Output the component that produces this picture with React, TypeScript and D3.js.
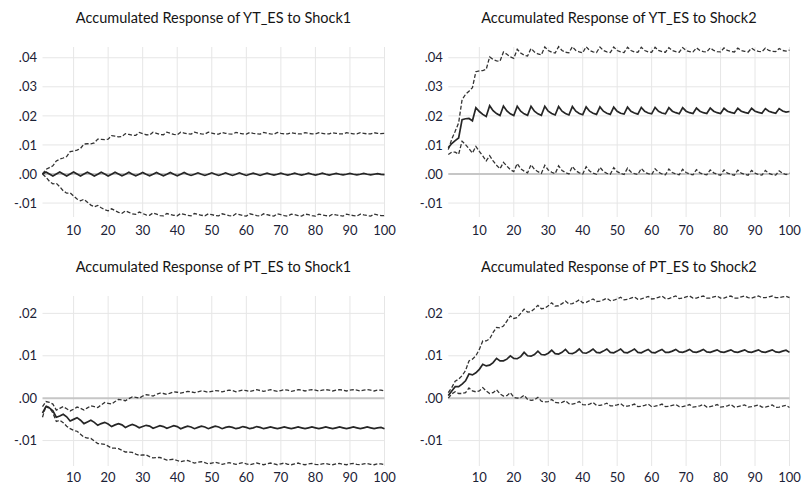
import React from "react";
import * as d3 from "d3";

// values in units of 1e-4
const UNIT = 1e-4;
const periods = d3.range(1, 101);
const xTicks = [10, 20, 30, 40, 50, 60, 70, 80, 90, 100];
const ytTicks = [-0.01, 0, 0.01, 0.02, 0.03, 0.04];
const ptTicks = [-0.01, 0, 0.01, 0.02];

const titles = [
  "Accumulated Response of YT_ES to Shock1",
  "Accumulated Response of YT_ES to Shock2",
  "Accumulated Response of PT_ES to Shock1",
  "Accumulated Response of PT_ES to Shock2",
];

const ytS1Mid = [
  0,7,0,-7, 0,7,0,-7, 0,7,0,-7, 0,6,0,-7, -1,6,0,-7,
  -1,6,0,-6, -1,6,-1,-6, -1,5,-1,-6, -1,5,-1,-6, -1,5,-1,-6,
  -1,5,-1,-5, -1,4,-1,-5, -1,4,-1,-5, -1,4,-1,-5, -1,4,-1,-5,
  -1,3,-1,-5, -1,3,-1,-4, -1,3,-1,-4, -1,3,-1,-4, -1,3,-1,-4,
  -1,3,-1,-4, -1,2,-1,-3, -1,2,-1,-3, -1,2,-1,-3, -1,1,-1,-2,
];
const ytS1Hi = [
  0,16,22,28, 45,51,55,60, 77,79,82,88, 103,104,104,107, 120,119,118,120,
  132,130,128,129, 139,136,133,133, 143,139,135,134, 144,140,136,135, 144,140,136,135,
  144,141,138,137, 144,141,138,137, 144,141,138,137, 143,140,138,137, 143,140,138,137,
  143,140,138,137, 143,140,138,137, 143,140,138,138, 142,140,138,138, 142,140,138,138,
  142,140,138,138, 142,140,138,138, 142,140,138,138, 142,140,138,138, 142,140,139,140,
];
const ytS1Lo = [
  0,-11,-25,-34, -32,-44,-58,-66, -65,-76,-86,-92, -87,-97,-107,-113, -108,-116,-123,-127,
  -120,-126,-132,-135, -127,-132,-137,-139, -131,-136,-141,-142, -134,-138,-143,-144, -136,-139,-142,-144,
  -136,-139,-142,-144, -136,-139,-142,-144, -137,-140,-143,-144, -137,-140,-143,-145, -137,-140,-143,-145,
  -137,-140,-143,-145, -137,-140,-143,-145, -137,-140,-143,-145, -138,-140,-143,-145, -138,-140,-143,-145,
  -138,-141,-143,-145, -138,-141,-143,-145, -138,-141,-143,-145, -138,-141,-143,-145, -138,-141,-143,-143,
];

const ytS2Mid = [
  90,105,115,124, 187,190,191,183, 228,215,205,198, 235,218,208,201, 234,217,207,201,
  233,216,207,202, 233,216,207,202, 233,216,208,203, 232,216,208,203, 232,216,208,204,
  231,216,209,205, 231,216,209,205, 230,216,209,206, 230,216,210,206, 229,216,210,207,
  229,216,210,207, 228,216,211,207, 228,216,211,208, 227,216,211,208, 227,216,211,208,
  226,216,212,209, 226,216,212,209, 226,216,212,209, 225,216,212,209, 225,217,213,215,
];
const ytS2Hi = [
  84,120,147,176, 256,274,285,297, 352,355,356,360, 403,394,389,388, 420,412,403,398,
  429,416,409,406, 432,420,413,410, 437,425,419,416, 438,425,419,417, 438,425,420,417,
  438,425,420,418, 437,425,420,418, 437,425,420,418, 436,425,420,419, 436,425,420,419,
  436,425,421,419, 435,425,421,419, 435,425,421,420, 434,425,421,420, 434,425,421,420,
  434,425,422,420, 433,425,422,420, 433,425,422,421, 433,425,422,421, 432,425,423,426,
];
const ytS2Lo = [
  67,75,75,68, 113,101,87,72, 95,78,62,45, 63,45,30,18, 40,27,15,8,
  36,18,10,4, 32,16,8,2, 30,14,6,1, 28,12,5,0, 26,11,4,0,
  25,10,3,-1, 23,9,2,-1, 22,8,2,-2, 20,7,1,-2, 19,6,1,-2,
  18,6,0,-3, 17,5,0,-3, 16,5,0,-3, 15,4,-1,-3, 14,4,-1,-4,
  14,3,-1,-4, 13,3,-1,-4, 12,3,-2,-4, 12,2,-2,-4, 11,2,-2,3,
];

const ptS1Mid = [
  -35,-20,-23,-30, -45,-42,-38,-44, -54,-50,-46,-52, -60,-56,-52,-57, -64,-60,-57,-61,
  -67,-63,-60,-63, -69,-65,-62,-65, -70,-67,-64,-66, -71,-68,-65,-67, -71,-68,-65,-67,
  -72,-69,-66,-68, -72,-69,-66,-68, -72,-69,-66,-68, -72,-69,-67,-69, -72,-70,-67,-69,
  -72,-70,-67,-69, -72,-70,-68,-70, -72,-70,-68,-70, -72,-70,-68,-70, -72,-70,-68,-70,
  -72,-70,-68,-70, -72,-70,-68,-70, -72,-70,-68,-70, -72,-70,-68,-70, -72,-70,-69,-72,
];
const ptS1Hi = [
  -20,-8,-10,-14, -28,-24,-20,-25, -30,-26,-21,-24, -28,-23,-18,-20, -22,-16,-10,-12,
  -14,-8,-3,-4, -6,-1,3,2, 0,5,8,7, 5,9,12,11, 9,12,15,14,
  12,14,16,15, 13,15,17,16, 14,16,18,17, 15,17,19,18, 15,17,19,18,
  16,18,20,18, 16,18,20,18, 16,18,20,19, 16,18,20,19, 17,19,20,19,
  17,19,20,19, 17,19,20,19, 17,19,20,19, 17,19,20,19, 17,19,19,17,
];
const ptS1Lo = [
  -45,-18,-22,-35, -55,-52,-58,-66, -72,-76,-78,-85, -92,-94,-95,-101, -107,-108,-109,-113,
  -118,-118,-119,-123, -127,-127,-128,-132, -135,-134,-134,-138, -141,-140,-140,-143, -146,-145,-144,-147,
  -150,-148,-147,-150, -153,-151,-150,-152, -155,-153,-151,-153, -156,-154,-152,-154, -156,-154,-152,-155,
  -157,-155,-153,-155, -157,-155,-153,-155, -157,-155,-153,-156, -157,-155,-153,-156, -157,-155,-154,-156,
  -157,-155,-154,-156, -157,-155,-154,-156, -157,-155,-154,-156, -157,-155,-154,-156, -157,-155,-155,-157,
];

const ptS2Mid = [
  6,17,27,27, 33,41,57,55, 60,68,80,76, 78,84,94,88, 88,92,100,94,
  93,98,108,100, 99,103,111,103, 102,106,113,105, 104,108,115,106, 105,109,116,107,
  106,110,116,108, 107,111,116,108, 107,111,116,108, 107,111,116,108, 107,111,115,108,
  107,111,115,108, 108,111,115,109, 108,111,115,109, 108,111,115,109, 108,111,114,109,
  108,111,114,109, 108,111,114,109, 108,111,114,109, 108,111,114,109, 108,111,113,108,
];
const ptS2Hi = [
  13,25,40,45, 53,65,88,92, 100,115,135,135, 140,155,167,166, 170,182,194,188,
  190,200,210,203, 204,211,219,211, 212,218,225,217, 218,223,229,222, 223,227,232,225,
  226,230,234,228, 229,232,236,230, 231,234,238,232, 233,236,239,233, 234,237,240,234,
  235,238,241,235, 235,238,241,235, 236,239,241,236, 236,239,241,236, 236,239,241,236,
  236,239,241,236, 236,239,241,237, 236,239,241,237, 237,239,241,237, 237,239,240,237,
];
const ptS2Lo = [
  0,10,15,11, 11,13,24,17, 15,17,25,17, 11,13,20,10, 5,6,13,2,
  0,1,7,-3, -5,-4,2,-7, -9,-8,-3,-10, -11,-10,-6,-13, -14,-12,-8,-15,
  -16,-14,-10,-17, -17,-15,-12,-18, -18,-16,-13,-19, -19,-17,-14,-20, -19,-17,-14,-20,
  -19,-17,-14,-20, -19,-17,-15,-20, -20,-18,-15,-21, -20,-18,-15,-21, -20,-18,-15,-21,
  -20,-18,-15,-21, -20,-18,-16,-21, -20,-18,-16,-21, -21,-19,-16,-22, -21,-19,-17,-22,
];

const FONT = "Lato, 'Open Sans', sans-serif";
const fmt = (v: number) => {
  const s = Math.abs(v).toFixed(2).replace(/^0/, "");
  return (v < 0 ? "-" : "") + s;
};

type PanelProps = {
  title: string;
  mid: number[];
  hi: number[];
  lo: number[];
  xRange: [number, number];
  yRange: [number, number];
  yDomain: [number, number];
  yTicks: number[];
  titleY: number;
  xLabelY: number;
};

function Panel(p: PanelProps) {
  const x = d3.scaleLinear().domain([1, 100]).range(p.xRange);
  const y = d3.scaleLinear().domain(p.yDomain).range(p.yRange);
  const line = d3
    .line<number>()
    .x((_, i) => x(periods[i]))
    .y((d) => y(d * UNIT));
  const [x0, x1] = p.xRange;
  const [yb, yt] = p.yRange;
  return (
    <g>
      <text
        x={(x0 + x1) / 2}
        y={p.titleY}
        textAnchor="middle"
        fontSize={14.5}
        fill="#151515"
        fontFamily={FONT}
      >
        {p.title}
      </text>
      {xTicks.map((t) => (
        <line key={"vx" + t} x1={x(t)} x2={x(t)} y1={yt} y2={yb} stroke="#e6e6e6" strokeWidth={1} />
      ))}
      {p.yTicks.map((t) => (
        <line
          key={"hy" + t}
          x1={x0}
          x2={x1}
          y1={y(t)}
          y2={y(t)}
          stroke={t === 0 ? "#c6c6c6" : "#e6e6e6"}
          strokeWidth={t === 0 ? 2 : 1}
        />
      ))}
      {p.yTicks.map((t) => (
        <text
          key={"ty" + t}
          x={x0 - 5.5}
          y={y(t)}
          dy="0.36em"
          textAnchor="end"
          fontSize={13}
          fill="#1c2236"
          fontFamily={FONT}
        >
          {fmt(t)}
        </text>
      ))}
      {xTicks.map((t) => (
        <text
          key={"tx" + t}
          x={x(t)}
          y={p.xLabelY}
          dy="0.36em"
          textAnchor="middle"
          fontSize={13}
          fill="#1c2236"
          fontFamily={FONT}
        >
          {t}
        </text>
      ))}
      <path d={line(p.hi) || ""} fill="none" stroke="#333" strokeWidth={1.3} strokeDasharray="4,2" />
      <path d={line(p.lo) || ""} fill="none" stroke="#333" strokeWidth={1.3} strokeDasharray="4,2" />
      <path d={line(p.mid) || ""} fill="none" stroke="#262626" strokeWidth={1.7} />
    </g>
  );
}

export default function App() {
  const leftX: [number, number] = [42.5, 384.5];
  const rightX: [number, number] = [448.3, 789.5];
  const topY: [number, number] = [217, 47];
  const botY: [number, number] = [466, 296];
  const topDom: [number, number] = [-0.0148, 0.0437];
  const botDom: [number, number] = [-0.016, 0.0241];
  return (
    <svg
      width={805}
      height={487}
      style={{ position: "absolute", left: 0, top: 0, background: "#fff" }}
    >
      <rect width={805} height={487} fill="#fff" />
      <Panel title={titles[0]} mid={ytS1Mid} hi={ytS1Hi} lo={ytS1Lo} xRange={leftX} yRange={topY} yDomain={topDom} yTicks={ytTicks} titleY={22.5} xLabelY={230} />
      <Panel title={titles[1]} mid={ytS2Mid} hi={ytS2Hi} lo={ytS2Lo} xRange={rightX} yRange={topY} yDomain={topDom} yTicks={ytTicks} titleY={22.5} xLabelY={230} />
      <Panel title={titles[2]} mid={ptS1Mid} hi={ptS1Hi} lo={ptS1Lo} xRange={leftX} yRange={botY} yDomain={botDom} yTicks={ptTicks} titleY={272} xLabelY={477} />
      <Panel title={titles[3]} mid={ptS2Mid} hi={ptS2Hi} lo={ptS2Lo} xRange={rightX} yRange={botY} yDomain={botDom} yTicks={ptTicks} titleY={272} xLabelY={477} />
    </svg>
  );
}
